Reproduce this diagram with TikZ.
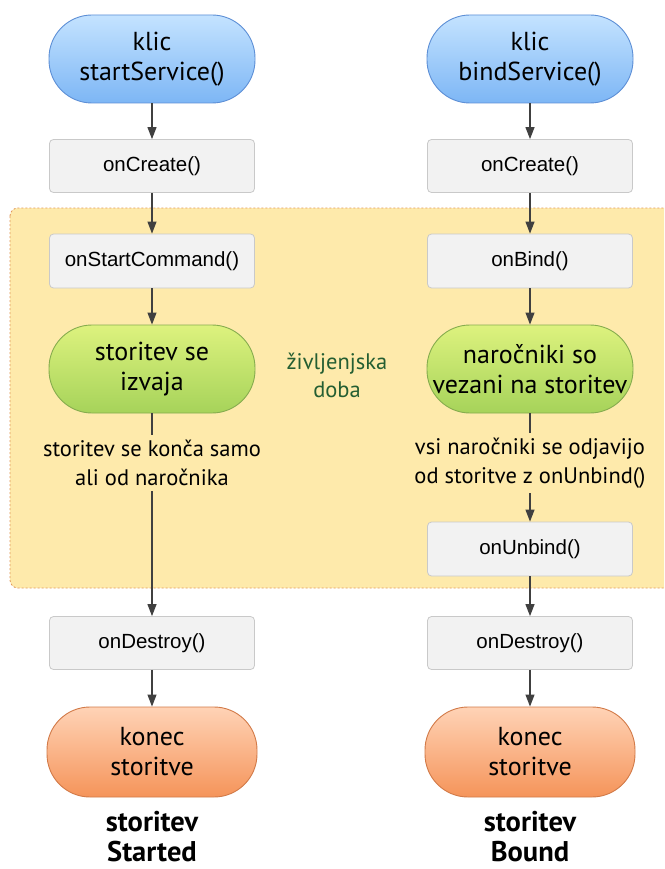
\documentclass[tikz,border=0pt]{standalone}
\usepackage{fontspec}
\setmainfont{PT Sans}
\newfontfamily\fnfont{Liberation Sans}
\usetikzlibrary{arrows.meta}
\definecolor{bluetop}{HTML}{C4E3FF}
\definecolor{bluebot}{HTML}{7DB6F5}
\definecolor{blueline}{HTML}{5D8FD6}
\definecolor{greentop}{HTML}{DDF27E}
\definecolor{greenbot}{HTML}{A6D35A}
\definecolor{greenline}{HTML}{86AC4E}
\definecolor{orangetop}{HTML}{FFD3B6}
\definecolor{orangebot}{HTML}{F5945A}
\definecolor{orangeline}{HTML}{D27A48}
\definecolor{boxfill}{HTML}{F2F2F2}
\definecolor{boxline}{HTML}{C9C9C9}
\definecolor{lifefill}{HTML}{FEEAAB}
\definecolor{lifeline}{HTML}{E09A5C}
\definecolor{lifetext}{HTML}{245E32}
\definecolor{arrowcol}{HTML}{404040}
\tikzset{
  pill/.style={rounded corners=43pt, minimum width=206pt, minimum height=88pt, align=center, inner sep=0pt,
    font=\fontsize{26}{30}\selectfont, text=black, line width=0.9pt},
  bluepill/.style={pill, draw=blueline, top color=bluetop, bottom color=bluebot},
  greenpill/.style={pill, draw=greenline, top color=greentop, bottom color=greenbot},
  orangepill/.style={pill, draw=orangeline, top color=orangetop, bottom color=orangebot, minimum width=210pt, minimum height=90pt},
  fnbox/.style={draw=boxline, fill=boxfill, rounded corners=4pt, minimum width=205pt, minimum height=53pt,
    font=\fnfont\fontsize{20.5}{22}\selectfont, text=black, line width=0.8pt},
  note/.style={align=center, font=\fontsize{22.5}{29}\selectfont, inner sep=5pt},
  caption/.style={align=center, inner sep=0pt, font=\bfseries\fontsize{28.5}{30}\selectfont},
  flow/.style={draw=arrowcol, line width=1.1pt, -{Triangle[length=12pt,width=9pt]}},
  plain/.style={draw=arrowcol, line width=1.1pt}
}
\begin{document}
\begin{tikzpicture}[x=1pt,y=-1pt]
\clip (0,0) rectangle (664,869);
\fill[white] (0,0) rectangle (664,869);
% lifetime region
\draw[fill=lifefill, draw=lifeline, dash pattern=on 2pt off 2pt, line width=0.8pt, rounded corners=8pt]
  (10,208) rectangle (690,588);
\node[font=\fontsize{22.5}{28}\selectfont, text=lifetext, align=center] (life) at (337,375) {življenjska\\doba};

% left column
\node[bluepill] (s1) at (152,59) {klic\\startService()};
\node[fnbox] (c1) at (152,166) {onCreate()};
\node[fnbox, minimum height=54pt] (sc) at (152,261) {onStartCommand()};
\node[greenpill] (g1) at (152,369) {storitev se\\izvaja};
\node[note] (t1) at (152,463) {storitev se konča samo\\ali od naročnika};
\node[fnbox] (d1) at (152,643) {onDestroy()};
\node[orangepill] (e1) at (152,752) {konec\\storitve};
\node[caption] (k1) at (152,837) {storitev\\Started};

% right column
\node[bluepill] (s2) at (530,59) {klic\\bindService()};
\node[fnbox] (c2) at (530,166) {onCreate()};
\node[fnbox, minimum height=54pt] (b2) at (530,261) {onBind()};
\node[greenpill] (g2) at (530,369) {naročniki so\\vezani na storitev};
\node[note] (t2) at (530,463) {vsi naročniki se odjavijo\\od storitve z onUnbind()};
\node[fnbox, minimum height=54pt] (u2) at (530,549) {onUnbind()};
\node[fnbox] (d2) at (530,643) {onDestroy()};
\node[orangepill] (e2) at (530,752) {konec\\storitve};
\node[caption] (k2) at (530,837) {storitev\\Bound};

% connectors left
\draw[flow] (s1) -- (c1);
\draw[flow] (c1) -- (sc);
\draw[flow] (sc) -- (g1);
\draw[plain] (g1) -- (t1);
\draw[flow] (t1) -- (d1);
\draw[flow] (d1) -- (e1);
% connectors right
\draw[flow] (s2) -- (c2);
\draw[flow] (c2) -- (b2);
\draw[flow] (b2) -- (g2);
\draw[plain] (g2) -- (t2);
\draw[flow] (t2) -- (u2);
\draw[flow] (u2) -- (d2);
\draw[flow] (d2) -- (e2);
\end{tikzpicture}
\end{document}
